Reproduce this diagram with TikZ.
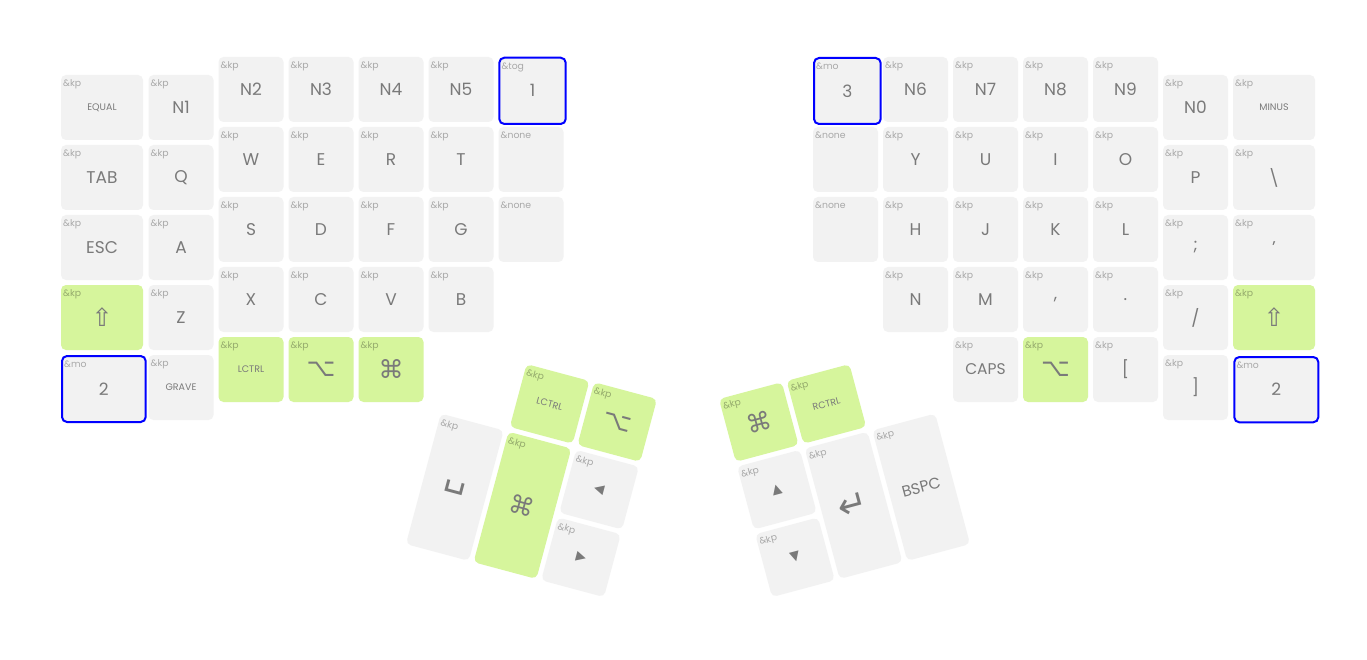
\documentclass[tikz,border=0pt]{standalone}
\usepackage{fontspec}
\setmainfont{Poppins}
\newfontfamily\glyphs{DejaVu Sans}
\usepackage{tikz}
\definecolor{keybg}{HTML}{F2F2F2}
\definecolor{keygrn}{HTML}{D6F59C}
\definecolor{keytxt}{HTML}{7A7A7A}
\newcommand{\kbkey}[8]{%
  \node[key,#6,minimum width=#4pt,minimum height=#5pt] (#1) at (#2+#4/2,-#3-#5/2) {#8};
  \node[hint] (#1h) at (#2+2,-#3-11.5) {#7};}

\begin{document}
\begin{tikzpicture}[
  x=1pt, y=1pt,
  key/.style={rectangle, rounded corners=5pt, fill=keybg, inner sep=0pt, text=keytxt, font=\fontsize{17}{20}\selectfont},
  grn/.style={fill=keygrn},
  held/.style={draw=blue, line width=2pt},
  small/.style={font=\fontsize{9.5}{11}\selectfont},
  mid/.style={font=\fontsize{15.5}{18}\selectfont},
  sym/.style={font=\glyphs\fontsize{25}{28}\selectfont},
  big/.style={font=\glyphs\fontsize{36}{38}\selectfont},
  tri/.style={font=\glyphs\fontsize{13}{15}\selectfont},
  hint/.style={inner sep=0pt, anchor=base west, font=\fontsize{9.3}{10}\selectfont, text=black, text opacity=0.3}]
\path[fill=white, use as bounding box] (0,0) rectangle (1367,-660);
% left half
\kbkey{eq}{61}{75}{82}{65}{small}{\&kp}{EQUAL}
\kbkey{tab}{61}{145}{82}{65}{}{\&kp}{TAB}
\kbkey{esc}{61}{215}{82}{65}{}{\&kp}{ESC}
\kbkey{lsft}{61}{285}{82}{65}{grn,sym}{\&kp}{⇧}
\kbkey{lmo}{62}{356}{83.7}{66}{held}{\&mo}{2}
\kbkey{n1}{148.5}{75}{65}{65}{}{\&kp}{N1}
\kbkey{q}{148.5}{145}{65}{65}{}{\&kp}{Q}
\kbkey{a}{148.5}{215}{65}{65}{}{\&kp}{A}
\kbkey{z}{148.5}{285}{65}{65}{}{\&kp}{Z}
\kbkey{grv}{148.5}{355}{65}{65}{small}{\&kp}{GRAVE}
\kbkey{n2}{218.5}{57}{65}{65}{}{\&kp}{N2}
\kbkey{w}{218.5}{127}{65}{65}{}{\&kp}{W}
\kbkey{s}{218.5}{197}{65}{65}{}{\&kp}{S}
\kbkey{x}{218.5}{267}{65}{65}{}{\&kp}{X}
\kbkey{lctl}{218.5}{337}{65}{65}{grn,small}{\&kp}{LCTRL}
\kbkey{n3}{288.5}{57}{65}{65}{}{\&kp}{N3}
\kbkey{e}{288.5}{127}{65}{65}{}{\&kp}{E}
\kbkey{d}{288.5}{197}{65}{65}{}{\&kp}{D}
\kbkey{c}{288.5}{267}{65}{65}{}{\&kp}{C}
\kbkey{lalt}{288.5}{337}{65}{65}{grn,sym}{\&kp}{⌥}
\kbkey{n4}{358.5}{57}{65}{65}{}{\&kp}{N4}
\kbkey{r}{358.5}{127}{65}{65}{}{\&kp}{R}
\kbkey{f}{358.5}{197}{65}{65}{}{\&kp}{F}
\kbkey{v}{358.5}{267}{65}{65}{}{\&kp}{V}
\kbkey{lcmd}{358.5}{337}{65}{65}{grn,sym}{\&kp}{⌘}
\kbkey{n5}{428.5}{57}{65}{65}{}{\&kp}{N5}
\kbkey{t}{428.5}{127}{65}{65}{}{\&kp}{T}
\kbkey{g}{428.5}{197}{65}{65}{}{\&kp}{G}
\kbkey{b}{428.5}{267}{65}{65}{}{\&kp}{B}
\kbkey{tog}{499.3}{57.7}{66.4}{66.3}{held}{\&tog}{1}
\kbkey{nla}{498.5}{127}{65}{65}{}{\&none}{}
\kbkey{nlb}{498.5}{197}{65}{65}{}{\&none}{}
% right half
\kbkey{rmo}{814}{58}{66.7}{66}{held}{\&mo}{3}
\kbkey{nra}{813}{127}{65}{65}{}{\&none}{}
\kbkey{nrb}{813}{197}{65}{65}{}{\&none}{}
\kbkey{n6}{883}{57}{65}{65}{}{\&kp}{N6}
\kbkey{y}{883}{127}{65}{65}{}{\&kp}{Y}
\kbkey{h}{883}{197}{65}{65}{}{\&kp}{H}
\kbkey{n}{883}{267}{65}{65}{}{\&kp}{N}
\kbkey{n7}{953}{57}{65}{65}{}{\&kp}{N7}
\kbkey{u}{953}{127}{65}{65}{}{\&kp}{U}
\kbkey{j}{953}{197}{65}{65}{}{\&kp}{J}
\kbkey{m}{953}{267}{65}{65}{}{\&kp}{M}
\kbkey{caps}{953}{337}{65}{65}{mid}{\&kp}{CAPS}
\kbkey{n8}{1023}{57}{65}{65}{}{\&kp}{N8}
\kbkey{i}{1023}{127}{65}{65}{}{\&kp}{I}
\kbkey{k}{1023}{197}{65}{65}{}{\&kp}{K}
\kbkey{comma}{1023}{267}{65}{65}{}{\&kp}{,}
\kbkey{ralt}{1023}{337}{65}{65}{grn,sym}{\&kp}{⌥}
\kbkey{n9}{1093}{57}{65}{65}{}{\&kp}{N9}
\kbkey{o}{1093}{127}{65}{65}{}{\&kp}{O}
\kbkey{l}{1093}{197}{65}{65}{}{\&kp}{L}
\kbkey{dot}{1093}{267}{65}{65}{}{\&kp}{.}
\kbkey{lbrk}{1093}{337}{65}{65}{}{\&kp}{[}
\kbkey{n0}{1163}{75}{65}{65}{}{\&kp}{N0}
\kbkey{p}{1163}{145}{65}{65}{}{\&kp}{P}
\kbkey{semi}{1163}{215}{65}{65}{}{\&kp}{;}
\kbkey{slsh}{1163}{285}{65}{65}{}{\&kp}{/}
\kbkey{rbrk}{1163}{355}{65}{65}{}{\&kp}{]}
\kbkey{minus}{1233}{75}{82}{65}{small}{\&kp}{MINUS}
\kbkey{bsl}{1233}{145}{82}{65}{}{\&kp}{\textbackslash}
\kbkey{apos}{1233}{215}{82}{65}{}{\&kp}{'}
\kbkey{rsft}{1233}{285}{82}{65}{grn,sym}{\&kp}{⇧}
\kbkey{rmo2}{1234.3}{357}{84}{65.3}{held}{\&mo}{2}
% thumbs
\begin{scope}[shift={(459,-346)}, rotate=-15, transform shape]
\kbkey{tlc}{70}{0}{65}{65}{grn,small}{\&kp}{LCTRL}
\kbkey{talt}{140}{0}{65}{65}{grn,sym}{\&kp}{⌥}
\kbkey{tspc}{0}{70}{65}{135}{big}{\&kp}{␣}
\kbkey{tcmd}{70}{70}{65}{135}{grn,sym}{\&kp}{⌘}
\kbkey{tlft}{140}{70}{65}{65}{tri}{\&kp}{◀}
\kbkey{trgt}{140}{140}{65}{65}{tri}{\&kp}{▶}
\end{scope}
\begin{scope}[shift={(917,-346)}, rotate=15, transform shape]
\kbkey{ucmd}{-205}{0}{65}{65}{grn,sym}{\&kp}{⌘}
\kbkey{urc}{-135}{0}{65}{65}{grn,small}{\&kp}{RCTRL}
\kbkey{uup}{-205}{70}{65}{65}{tri}{\&kp}{▲}
\kbkey{udn}{-205}{140}{65}{65}{tri}{\&kp}{▼}
\kbkey{uent}{-135}{70}{65}{135}{big}{\&kp}{↵}
\kbkey{ubs}{-65}{70}{65}{135}{mid}{\&kp}{BSPC}
\end{scope}
\end{tikzpicture}
\end{document}
